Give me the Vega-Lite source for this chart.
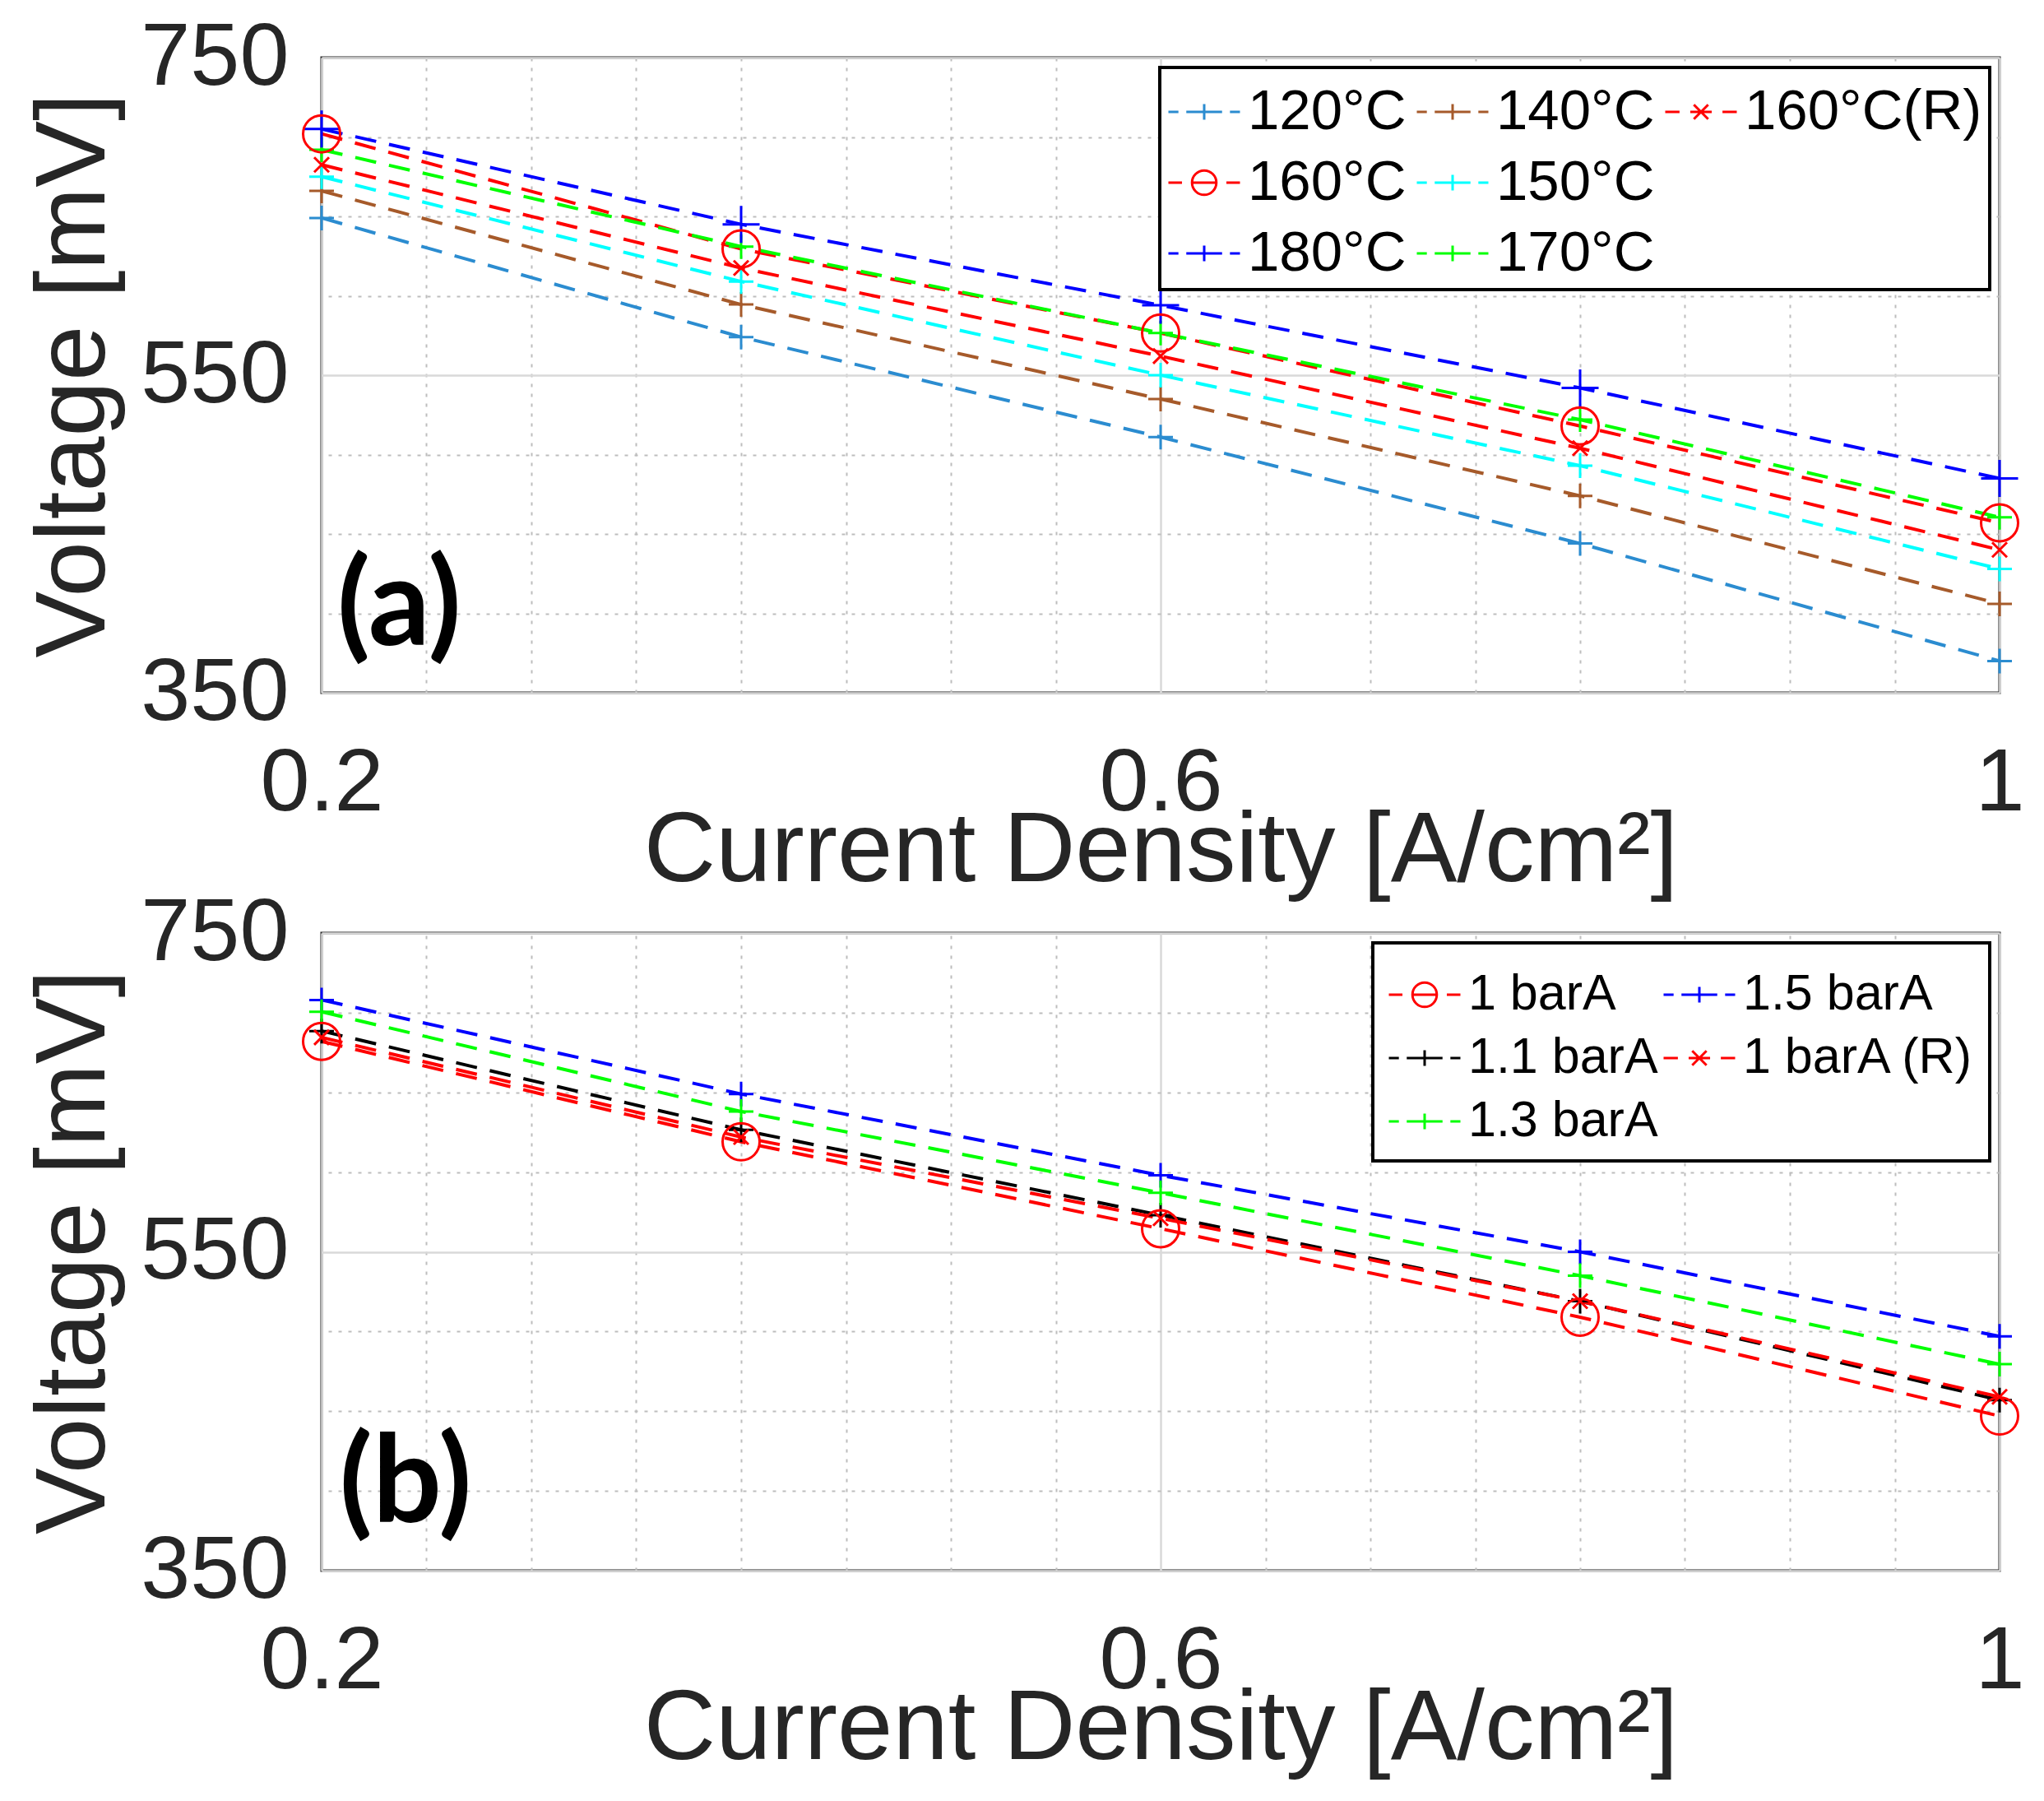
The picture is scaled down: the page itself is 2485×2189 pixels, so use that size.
{
  "$schema": "https://vega.github.io/schema/vega-lite/v6.json",
  "description": "Polarisation curves: (a) temperature series, (b) pressure series",
  "background": "white",
  "padding": {"left": 27, "top": 14, "right": 5, "bottom": 5},
  "datasets": {
    "temperature": [
      {"series": "120°C", "j": 0.2, "v": 649}, {"series": "120°C", "j": 0.4, "v": 574}, {"series": "120°C", "j": 0.6, "v": 511}, {"series": "120°C", "j": 0.8, "v": 444}, {"series": "120°C", "j": 1.0, "v": 370},
      {"series": "140°C", "j": 0.2, "v": 666}, {"series": "140°C", "j": 0.4, "v": 594.5}, {"series": "140°C", "j": 0.6, "v": 535}, {"series": "140°C", "j": 0.8, "v": 474}, {"series": "140°C", "j": 1.0, "v": 406},
      {"series": "160°C(R)", "j": 0.2, "v": 682.5}, {"series": "160°C(R)", "j": 0.4, "v": 617.5}, {"series": "160°C(R)", "j": 0.6, "v": 562}, {"series": "160°C(R)", "j": 0.8, "v": 504}, {"series": "160°C(R)", "j": 1.0, "v": 440},
      {"series": "160°C", "j": 0.2, "v": 702}, {"series": "160°C", "j": 0.4, "v": 629.5}, {"series": "160°C", "j": 0.6, "v": 576.5}, {"series": "160°C", "j": 0.8, "v": 518}, {"series": "160°C", "j": 1.0, "v": 457},
      {"series": "150°C", "j": 0.2, "v": 675}, {"series": "150°C", "j": 0.4, "v": 609}, {"series": "150°C", "j": 0.6, "v": 550}, {"series": "150°C", "j": 0.8, "v": 493}, {"series": "150°C", "j": 1.0, "v": 428},
      {"series": "180°C", "j": 0.2, "v": 705}, {"series": "180°C", "j": 0.4, "v": 645}, {"series": "180°C", "j": 0.6, "v": 594}, {"series": "180°C", "j": 0.8, "v": 542}, {"series": "180°C", "j": 1.0, "v": 485},
      {"series": "170°C", "j": 0.2, "v": 692}, {"series": "170°C", "j": 0.4, "v": 631}, {"series": "170°C", "j": 0.6, "v": 576.5}, {"series": "170°C", "j": 0.8, "v": 522}, {"series": "170°C", "j": 1.0, "v": 460.5}
    ],
    "pressure": [
      {"series": "1 barA", "j": 0.2, "v": 682}, {"series": "1 barA", "j": 0.4, "v": 619}, {"series": "1 barA", "j": 0.6, "v": 564.5}, {"series": "1 barA", "j": 0.8, "v": 509}, {"series": "1 barA", "j": 1.0, "v": 447},
      {"series": "1.5 barA", "j": 0.2, "v": 708}, {"series": "1.5 barA", "j": 0.4, "v": 649}, {"series": "1.5 barA", "j": 0.6, "v": 598}, {"series": "1.5 barA", "j": 0.8, "v": 550}, {"series": "1.5 barA", "j": 1.0, "v": 497},
      {"series": "1.1 barA", "j": 0.2, "v": 688.5}, {"series": "1.1 barA", "j": 0.4, "v": 626.5}, {"series": "1.1 barA", "j": 0.6, "v": 573}, {"series": "1.1 barA", "j": 0.8, "v": 519}, {"series": "1.1 barA", "j": 1.0, "v": 457},
      {"series": "1 barA (R)", "j": 0.2, "v": 684.5}, {"series": "1 barA (R)", "j": 0.4, "v": 622}, {"series": "1 barA (R)", "j": 0.6, "v": 571}, {"series": "1 barA (R)", "j": 0.8, "v": 519}, {"series": "1 barA (R)", "j": 1.0, "v": 459},
      {"series": "1.3 barA", "j": 0.2, "v": 700.6}, {"series": "1.3 barA", "j": 0.4, "v": 638}, {"series": "1.3 barA", "j": 0.6, "v": 587}, {"series": "1.3 barA", "j": 0.8, "v": 535}, {"series": "1.3 barA", "j": 1.0, "v": 479.5}
    ]
  },
  "config": {
    "font": "Liberation Sans",
    "view": {"stroke": "#262626", "strokeWidth": 3},
    "axis": {
      "labelFont": "Liberation Sans",
      "titleFont": "Liberation Sans",
      "labelColor": "#262626",
      "titleColor": "#262626",
      "labelFontSize": 108,
      "labelLimit": 0,
      "titleFontSize": 121,
      "titleFontWeight": "normal",
      "domain": false,
      "ticks": false
    },
    "legend": {
      "labelFont": "Liberation Sans",
      "labelColor": "black",
      "labelLimit": 0,
      "fillColor": "white",
      "strokeColor": "black",
      "symbolStrokeWidth": 3,
      "symbolSize": 7569,
      "labelOffset": 8
    }
  },
  "spacing": -18,
  "resolve": {"scale": {"color": "independent"}, "legend": {"color": "independent"}},
  "vconcat": [
    {
      "width": 2040,
      "height": 772,
      "data": {"name": "temperature"},
      "layer": [
        {
          "mark": {"type": "line", "strokeDash": [26, 16], "strokeWidth": 4},
          "encoding": {
            "x": {"field": "j", "type": "quantitative", "scale": {"domain": [0.2, 1]},
              "axis": {"orient": "bottom", "values": [0.2, 0.6, 1], "format": "~g", "labelFlush": false, "labelPadding": 57,
                "grid": true, "gridColor": "#d9d9d9", "gridWidth": 2.5, "title": "Current Density [A/cm²]", "titlePadding": -32}},
            "y": {"field": "v", "type": "quantitative", "scale": {"domain": [350, 750]},
              "axis": {"orient": "left", "values": [350, 550, 750], "labelPadding": 40,
                "grid": true, "gridColor": "#d9d9d9", "gridWidth": 2.5,
                "title": "Voltage [mV]", "titlePadding": 40}},
            "color": {"field": "series", "type": "nominal",
              "scale": {"domain": ["120°C", "160°C", "180°C", "140°C", "150°C", "170°C", "160°C(R)", " "],
                "range": ["#2b8cd0", "#ff0000", "#0000ff", "#a65a2a", "#00ffff", "#00ff00", "#ff0000", "#ffffff"]},
              "legend": {"title": null, "orient": "top-right", "offset": 12, "columns": 3, "labelFontSize": 69,
                "padding": 9, "rowPadding": 6, "columnPadding": 6,
                "encode": {
                  "legend": {"update": {"strokeWidth": {"value": 4}}},
                  "symbols": {"update": {
                    "shape": {"signal": "datum.value === ' ' ? 'M0,0' : datum.value === '160°C' ? 'M-1,0H-0.62M0.62,0H1M-0.34,0H0.34M0.34,0A0.34,0.34 0 1,1 -0.34,0A0.34,0.34 0 1,1 0.34,0' : datum.value === '160°C(R)' ? 'M-1,0H-0.6M-0.3,0H0.3M0.6,0H1M-0.2,-0.2L0.2,0.2M-0.2,0.2L0.2,-0.2' : 'M-1,0H-0.72M-0.5,0H-0.22M0.22,0H0.5M0.72,0H1M-0.22,0H0.22M0,-0.22V0.22'"},
                    "fill": {"value": "transparent"},
                    "strokeDash": {"value": [1000, 0]}
                  }}
                }}}
          }
        },
        {
          "transform": [{"filter": {"field": "series", "oneOf": ["120°C", "140°C", "150°C", "170°C"]}}],
          "mark": {"type": "point", "filled": false, "strokeWidth": 3, "size": 900, "opacity": 1, "shape": "M-1,0H1M0,-1V1"},
          "encoding": {
            "x": {"field": "j", "type": "quantitative",
              "axis": {"orient": "top", "values": [0.25, 0.3, 0.35, 0.4, 0.45, 0.5, 0.55, 0.65, 0.7, 0.75, 0.8, 0.85, 0.9, 0.95],
                "labels": false, "title": null, "grid": true, "gridDash": [4, 8], "gridColor": "#bdbdbd", "gridWidth": 2}},
            "y": {"field": "v", "type": "quantitative",
              "axis": {"orient": "right", "values": [400, 450, 500, 600, 650, 700],
                "labels": false, "title": null, "grid": true, "gridDash": [4, 8], "gridColor": "#bdbdbd", "gridWidth": 2}},
            "color": {"field": "series", "type": "nominal"}
          }
        },
        {
          "transform": [{"filter": {"field": "series", "equal": "180°C"}}],
          "mark": {"type": "point", "filled": false, "strokeWidth": 3, "size": 900, "opacity": 1, "shape": "M-1.5,0H1.5M0,-1.5V1.5"},
          "encoding": {
            "x": {"field": "j", "type": "quantitative", "axis": null},
            "y": {"field": "v", "type": "quantitative", "axis": null},
            "color": {"field": "series", "type": "nominal"}
          }
        },
        {
          "transform": [{"filter": {"field": "series", "equal": "160°C"}}],
          "mark": {"type": "point", "filled": false, "strokeWidth": 3, "size": 900, "opacity": 1, "shape": "M1.5,0A1.5,1.5 0 1,1 -1.5,0A1.5,1.5 0 1,1 1.5,0Z"},
          "encoding": {
            "x": {"field": "j", "type": "quantitative", "axis": null},
            "y": {"field": "v", "type": "quantitative", "axis": null},
            "color": {"field": "series", "type": "nominal"}
          }
        },
        {
          "transform": [{"filter": {"field": "series", "equal": "160°C(R)"}}],
          "mark": {"type": "point", "filled": false, "strokeWidth": 3, "size": 900, "opacity": 1, "shape": "M-0.6,-0.6L0.6,0.6M-0.6,0.6L0.6,-0.6"},
          "encoding": {
            "x": {"field": "j", "type": "quantitative", "axis": null},
            "y": {"field": "v", "type": "quantitative", "axis": null},
            "color": {"field": "series", "type": "nominal"}
          }
        },
        {
          "data": {"values": [{"label": "(a)"}]},
          "mark": {"type": "text", "font": "Lato", "fontWeight": "bold", "fontSize": 148, "color": "black"},
          "encoding": {
            "x": {"datum": 0.237, "type": "quantitative", "axis": null},
            "y": {"datum": 403, "type": "quantitative", "axis": null},
            "text": {"field": "label", "type": "nominal"}
          }
        }
      ],
      "resolve": {"axis": {"x": "independent", "y": "independent"}}
    },
    {
      "width": 2040,
      "height": 775,
      "data": {"name": "pressure"},
      "layer": [
        {
          "mark": {"type": "line", "strokeDash": [26, 16], "strokeWidth": 4},
          "encoding": {
            "x": {"field": "j", "type": "quantitative", "scale": {"domain": [0.2, 1]},
              "axis": {"orient": "bottom", "values": [0.2, 0.6, 1], "format": "~g", "labelFlush": false, "labelPadding": 57,
                "grid": true, "gridColor": "#d9d9d9", "gridWidth": 2.5, "title": "Current Density [A/cm²]", "titlePadding": -32}},
            "y": {"field": "v", "type": "quantitative", "scale": {"domain": [350, 750]},
              "axis": {"orient": "left", "values": [350, 550, 750], "labelPadding": 40,
                "grid": true, "gridColor": "#d9d9d9", "gridWidth": 2.5,
                "title": "Voltage [mV]", "titlePadding": 40}},
            "color": {"field": "series", "type": "nominal",
              "scale": {"domain": ["1 barA", "1.1 barA", "1.3 barA", "1.5 barA", "1 barA (R)"],
                "range": ["#ff0000", "#000000", "#00ff00", "#0000ff", "#ff0000"]},
              "legend": {"title": null, "orient": "top-right", "offset": 12, "columns": 2, "labelFontSize": 61,
                "padding": 18, "rowPadding": 2, "columnPadding": 0,
                "encode": {
                  "legend": {"update": {"strokeWidth": {"value": 4}}},
                  "symbols": {"update": {
                    "shape": {"signal": "datum.value === '1 barA' ? 'M-1,0H-0.62M0.62,0H1M-0.34,0H0.34M0.34,0A0.34,0.34 0 1,1 -0.34,0A0.34,0.34 0 1,1 0.34,0' : datum.value === '1 barA (R)' ? 'M-1,0H-0.6M-0.3,0H0.3M0.6,0H1M-0.2,-0.2L0.2,0.2M-0.2,0.2L0.2,-0.2' : 'M-1,0H-0.72M-0.5,0H-0.22M0.22,0H0.5M0.72,0H1M-0.22,0H0.22M0,-0.22V0.22'"},
                    "fill": {"value": "transparent"},
                    "strokeDash": {"value": [1000, 0]}
                  }}
                }}}
          }
        },
        {
          "transform": [{"filter": {"field": "series", "oneOf": ["1.1 barA", "1.3 barA", "1.5 barA"]}}],
          "mark": {"type": "point", "filled": false, "strokeWidth": 3, "size": 900, "opacity": 1, "shape": "M-1,0H1M0,-1V1"},
          "encoding": {
            "x": {"field": "j", "type": "quantitative",
              "axis": {"orient": "top", "values": [0.25, 0.3, 0.35, 0.4, 0.45, 0.5, 0.55, 0.65, 0.7, 0.75, 0.8, 0.85, 0.9, 0.95],
                "labels": false, "title": null, "grid": true, "gridDash": [4, 8], "gridColor": "#bdbdbd", "gridWidth": 2}},
            "y": {"field": "v", "type": "quantitative",
              "axis": {"orient": "right", "values": [400, 450, 500, 600, 650, 700],
                "labels": false, "title": null, "grid": true, "gridDash": [4, 8], "gridColor": "#bdbdbd", "gridWidth": 2}},
            "color": {"field": "series", "type": "nominal"}
          }
        },
        {
          "transform": [{"filter": {"field": "series", "equal": "1 barA"}}],
          "mark": {"type": "point", "filled": false, "strokeWidth": 3, "size": 900, "opacity": 1, "shape": "M1.5,0A1.5,1.5 0 1,1 -1.5,0A1.5,1.5 0 1,1 1.5,0Z"},
          "encoding": {
            "x": {"field": "j", "type": "quantitative", "axis": null},
            "y": {"field": "v", "type": "quantitative", "axis": null},
            "color": {"field": "series", "type": "nominal"}
          }
        },
        {
          "transform": [{"filter": {"field": "series", "equal": "1 barA (R)"}}],
          "mark": {"type": "point", "filled": false, "strokeWidth": 3, "size": 900, "opacity": 1, "shape": "M-0.6,-0.6L0.6,0.6M-0.6,0.6L0.6,-0.6"},
          "encoding": {
            "x": {"field": "j", "type": "quantitative", "axis": null},
            "y": {"field": "v", "type": "quantitative", "axis": null},
            "color": {"field": "series", "type": "nominal"}
          }
        },
        {
          "data": {"values": [{"label": "(b)"}]},
          "mark": {"type": "text", "font": "Lato", "fontWeight": "bold", "fontSize": 148, "color": "black"},
          "encoding": {
            "x": {"datum": 0.24, "type": "quantitative", "axis": null},
            "y": {"datum": 403, "type": "quantitative", "axis": null},
            "text": {"field": "label", "type": "nominal"}
          }
        }
      ],
      "resolve": {"axis": {"x": "independent", "y": "independent"}}
    }
  ]
}
